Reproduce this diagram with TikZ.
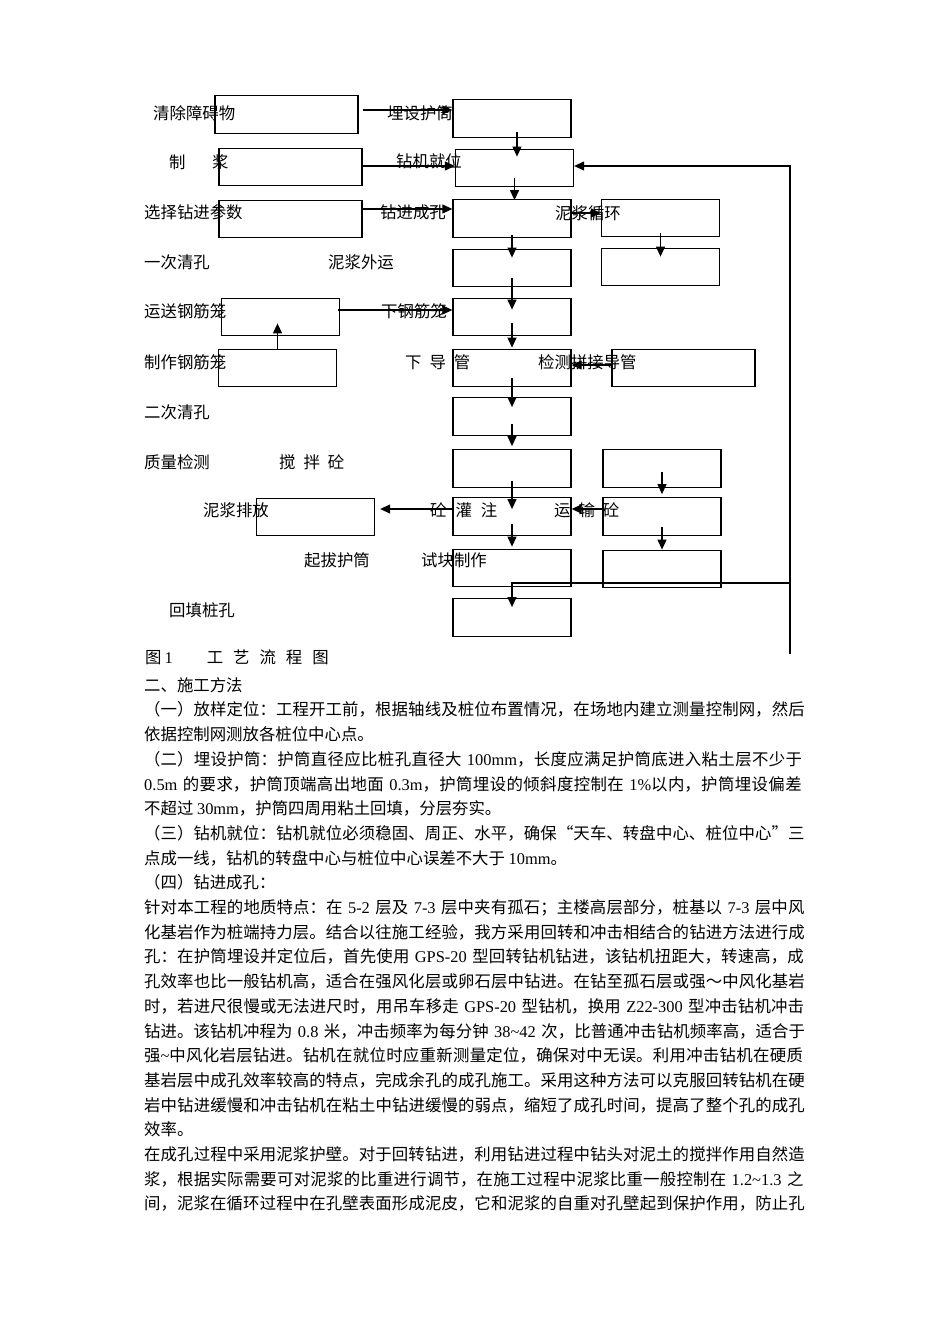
\documentclass[tikz,border=0pt]{standalone}
\usepackage{fontspec}
\newfontfamily\cjk{Noto Sans CJK SC}
\newfontfamily\lat{Liberation Serif}
\usetikzlibrary{arrows.meta,calc}
\XeTeXlinebreaklocale "zh"
\XeTeXlinebreakskip=0pt plus 3pt
\tikzset{
  box/.style={draw, line width=1.3pt, minimum width=118pt, minimum height=37.5pt, inner sep=0},
  widebox/.style={box, minimum width=143pt},
  arr/.style={line width=1.2pt, -{Triangle[length=10pt,width=9pt]}},
  lbl/.style={anchor=base west, inner sep=0, font=\cjk\fontsize{16.4}{20}\selectfont},
  rline/.style={lbl, font=\cjk\fontsize{16.4}{24.7}\selectfont},
  jline/.style={rline, text width=662pt, execute at begin node={\setlength{\parfillskip}{0pt}}}
}
\begin{document}
\begin{tikzpicture}[x=1pt,y=-1pt]
\useasboundingbox (0,0) rectangle (950,1344);
% boxes
\node[widebox] (qc) at (286.5,114.5) {};
\node[widebox] (zj) at (290.5,167) {};
\node[widebox] (cs) at (290.5,219) {};
\node[box] (ys) at (280.5,317) {};
\node[box] (zz) at (277.5,368) {};
\node[box] (pf) at (315.5,517) {};
\node[box] (ms) at (512,118.5) {};
\node[box] (jw) at (514.5,168) {};
\node[box] (ck) at (512,218.5) {};
\node[box] (qk1) at (512,268) {};
\node[box] (xg) at (512,317) {};
\node[box] (xd) at (512,368) {};
\node[box] (qk2) at (512,416.5) {};
\node[box] (zl) at (512,468.5) {};
\node[box] (gz) at (512,516.5) {};
\node[box] (sk) at (512,568) {};
\node[box] (ht) at (512,617.5) {};
\node[box] (xh) at (660.5,218) {};
\node[box] (wy) at (660.5,267) {};
\node[widebox] (jc) at (683.5,368) {};
\node[box] (jb) at (662,468.5) {};
\node[box] (yz) at (662,516.5) {};
\node[box] (qb) at (662,569) {};
% labels
\foreach \txt/\x/\y [count=\i] in {清除障碍物/153/113, 埋设护筒/387/113, 制\hspace{26.6pt}浆/169/162,
  钻机就位/396/161, 选择钻进参数/144/212, 钻进成孔/380/212, 泥浆循环/555/213, 一次清孔/144/262,
  泥浆外运/328/262, 运送钢筋笼/144/311, 下钢筋笼/381/311, 制作钢筋笼/144/362,
  下\hspace{8pt}导\hspace{8pt}管/405/362, 检测拼接导管/538/362, 二次清孔/144/412, 质量检测/144/462,
  搅\hspace{8pt}拌\hspace{8pt}砼/279/462, 泥浆排放/203/510, 砼\hspace{9pt}灌\hspace{9pt}注/430/510,
  运\hspace{8pt}输\hspace{8pt}砼/554/510, 起拔护筒/304/560, 试块制作/421/560, 回填桩孔/169/610,
  图\hspace{3pt}{\lat 1}\hspace{34pt}工\hspace{10pt}艺\hspace{10pt}流\hspace{10pt}程\hspace{10pt}图/145/657}
  \node[lbl] (t\i) at (\x,{\y+6.2}) {\txt};
% connectors
\draw[arr] ($(ms.south)+(5,-6)$) -- ($(ms.south |- jw.north)+(5,8)$);
\foreach \a/\b/\s/\e in {jw/ck/9/1, ck/qk1/3/9, qk1/xg/9/12, xg/xd/13/-1, xd/qk2/9/10, qk2/zl/12/-3,
  zl/gz/7/12, gz/sk/12/-2, xh/wy/4/9, jb/yz/16/-3, yz/qb/9/0}
  \draw[arr] ($(\a.south)+(0,-\s)$) -- ($(\a.south |- \b.north)+(0,\e)$);
\foreach \a/\p/\sx/\b/\q/\ex/\dy in {qc/east/4/ms/west/0/-4.5, zj/east/0/jw/west/0/-1,
  cs/east/0/ck/west/0/-10, ck/east/0/xh/west/0/-5.5, ys/east/-2/xg/west/0/-7,
  jc/west/0/xd/east/0/-3, gz/west/0/pf/east/5/-7.5, yz/west/0/gz/east/0/-7.5}
  \draw[arr] ($(\a.\p)+(\sx,\dy)$) -- ($(\a.\p -| \b.\q)+(\ex,\dy)$);
\draw[arr] (zz.north) -- ($(zz.north |- ys.south)+(0,-13)$);
\coordinate (fbend) at (790,654);
\coordinate (fbjoin) at (790,583);
\draw[arr] (fbend) |- ($(jw.east)+(0,-2)$);
\draw[arr] (fbjoin) -| ($(ht.north)+(0,9)$);
% text
\foreach \s/\txt [count=\i] in {
  rline/二、施工方法,
  jline/（一）放样定位：工程开工前，根据轴线及桩位布置情况，在场地内建立测量控制网，然后,
  rline/依据控制网测放各桩位中心点。,
  jline/（二）埋设护筒：护筒直径应比桩孔直径大 {\lat 100mm}，长度应满足护筒底进入粘土层不少于,
  jline/{\lat 0.5m} 的要求，护筒顶端高出地面 {\lat 0.3m}，护筒埋设的倾斜度控制在 {\lat 1\%}以内，护筒埋设偏差,
  rline/不超过 {\lat 30mm}，护筒四周用粘土回填，分层夯实。,
  jline/（三）钻机就位：钻机就位必须稳固、周正、水平，确保“天车、转盘中心、桩位中心”三,
  rline/点成一线，钻机的转盘中心与桩位中心误差不大于 {\lat 10mm}。,
  rline/（四）钻进成孔：,
  jline/针对本工程的地质特点：在 {\lat 5-2} 层及 {\lat 7-3} 层中夹有孤石；主楼高层部分，桩基以 {\lat 7-3} 层中风,
  jline/化基岩作为桩端持力层。结合以往施工经验，我方采用回转和冲击相结合的钻进方法进行成,
  jline/孔：在护筒埋设并定位后，首先使用 {\lat GPS-20} 型回转钻机钻进，该钻机扭距大，转速高，成,
  jline/孔效率也比一般钻机高，适合在强风化层或卵石层中钻进。在钻至孤石层或强～中风化基岩,
  jline/时，若进尺很慢或无法进尺时，用吊车移走 {\lat GPS-20} 型钻机，换用 {\lat Z22-300} 型冲击钻机冲击,
  jline/钻进。该钻机冲程为 {\lat 0.8} 米，冲击频率为每分钟 {\lat 38\textasciitilde 42} 次，比普通冲击钻机频率高，适合于,
  jline/强{\lat\textasciitilde}中风化岩层钻进。钻机在就位时应重新测量定位，确保对中无误。利用冲击钻机在硬质,
  jline/基岩层中成孔效率较高的特点，完成余孔的成孔施工。采用这种方法可以克服回转钻机在硬,
  jline/岩中钻进缓慢和冲击钻机在粘土中钻进缓慢的弱点，缩短了成孔时间，提高了整个孔的成孔,
  rline/效率。,
  jline/在成孔过程中采用泥浆护壁。对于回转钻进，利用钻进过程中钻头对泥土的搅拌作用自然造,
  jline/浆，根据实际需要可对泥浆的比重进行调节，在施工过程中泥浆比重一般控制在 {\lat 1.2\textasciitilde 1.3} 之,
  jline/间，泥浆在循环过程中在孔壁表面形成泥皮，它和泥浆的自重对孔壁起到保护作用，防止孔}
  \node[\s] (l\i) at (144,{691.2+24.7*(\i-1)}) {\txt};
\end{tikzpicture}
\end{document}
